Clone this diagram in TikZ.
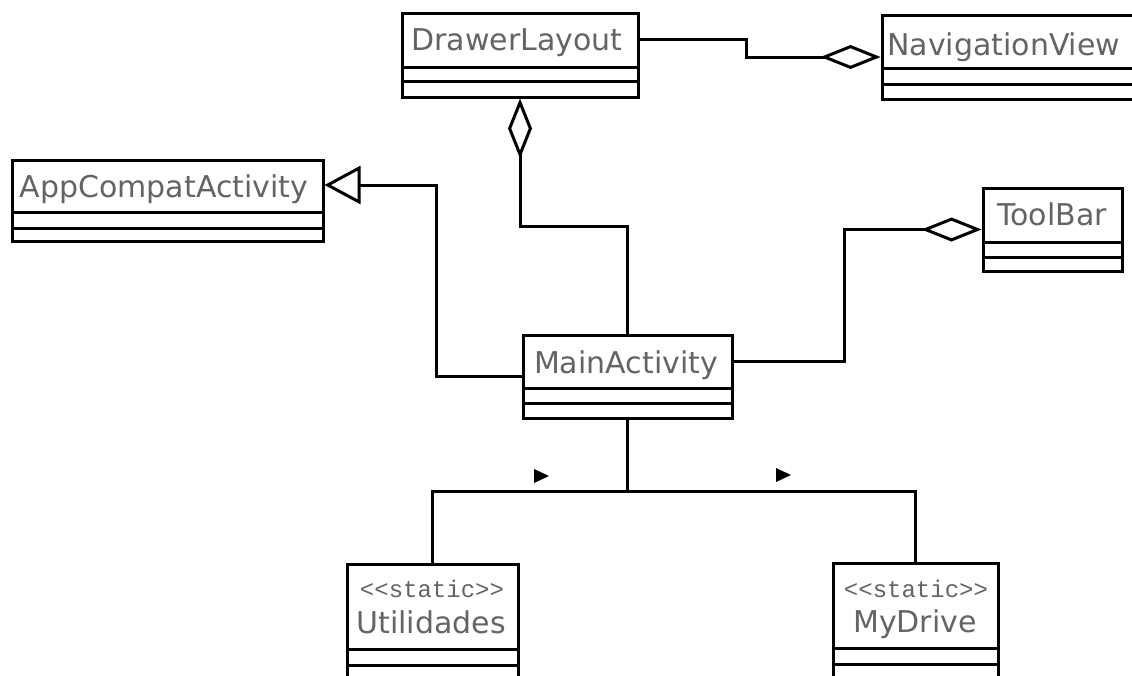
\documentclass[tikz,border=0pt]{standalone}
\usepackage{fontspec}
\setmainfont{DejaVu Sans}
\newfontfamily\stereofont{Liberation Mono}
\usetikzlibrary{arrows.meta}
\definecolor{labelgray}{RGB}{100,100,100}
\tikzset{
  umlbox/.style={draw=black, line width=3pt, inner sep=0pt, fill=white},
  sepline/.style={draw=black, line width=3pt},
  clsname/.style={anchor=base, inner sep=0pt, text=labelgray, font=\fontsize{30}{36}\selectfont},
  stereo/.style={anchor=base, inner sep=0pt, text=labelgray, font=\stereofont\fontsize{24}{28}\selectfont},
  conn/.style={draw=black, line width=3pt, line join=miter},
  aggr/.style={conn, -{Diamond[open, length=60pt, width=24pt]}},
  inherit/.style={conn, -{Triangle[open, length=36pt, width=38pt]}},
  dirmark/.style={fill=black},
}
% class box: name, x1, y1, x2, y2, first separator y, second separator y
\newcommand\umlclass[7]{%
  \node[umlbox, minimum width={#4-#2}, minimum height={#5-#3}] (#1) at ({(#2+#4)/2},{(#3+#5)/2}) {};
  \draw[sepline] (#2,#6) -- (#4,#6);
  \draw[sepline] (#2,#7) -- (#4,#7);
}
\begin{document}
\begin{tikzpicture}[x=1pt, y=-1pt]
  \useasboundingbox (0,0) rectangle (1132,675);
  \clip (0,0) rectangle (1132,675);

  % classes
  \umlclass{drawer}{402}{13}{638}{97}{67}{81}
  \umlclass{nav}{882}{15}{1160}{99}{68}{84}
  \umlclass{app}{12}{160}{323}{241}{212}{228}
  \umlclass{toolbar}{983}{188}{1122}{271}{242}{257}
  \umlclass{main}{523}{335}{732}{418}{388}{403}
  \umlclass{util}{347}{564}{518}{710}{649}{665}
  \umlclass{mydrive}{833}{563}{998}{710}{648}{664}

  % class names
  \node[clsname] (drawer-name) at (517,50) {DrawerLayout};
  \node[clsname, anchor=base west] (nav-name) at (887,55) {NavigationView};
  \node[clsname] (app-name) at (164,197) {AppCompatActivity};
  \node[clsname] (toolbar-name) at (1052,225) {ToolBar};
  \node[clsname] (main-name) at (626,373) {MainActivity};
  \node[stereo] (util-stereo) at (432,597) {<<static>>};
  \node[clsname] (util-name) at (431,633) {Utilidades};
  \node[stereo] (mydrive-stereo) at (916,597) {<<static>>};
  \node[clsname] (mydrive-name) at (915,632) {MyDrive};

  % relationships
  \draw[aggr] ([yshift=16pt]drawer.east) -- ++(107,0) |- (nav.west);
  \draw[aggr] (main.north) -- ++(0,-107) -| (drawer.south);
  \draw[inherit] (main.west) -- ++(-85,0) |- ([yshift=15.5pt]app.east);
  \draw[aggr] ([yshift=15.5pt]main.east) -- ++(111,0) |- (toolbar.west);
  \draw[conn] (main.south) -- ++(0,72) -| (util.north);
  \draw[conn] (main.south) -- ++(0,72) -| (mydrive.north);

  % navigability markers
  \fill[dirmark] (534,469) -- (549,476) -- (534,483) -- cycle;
  \fill[dirmark] (776,468) -- (791,475) -- (776,482) -- cycle;
\end{tikzpicture}
\end{document}
